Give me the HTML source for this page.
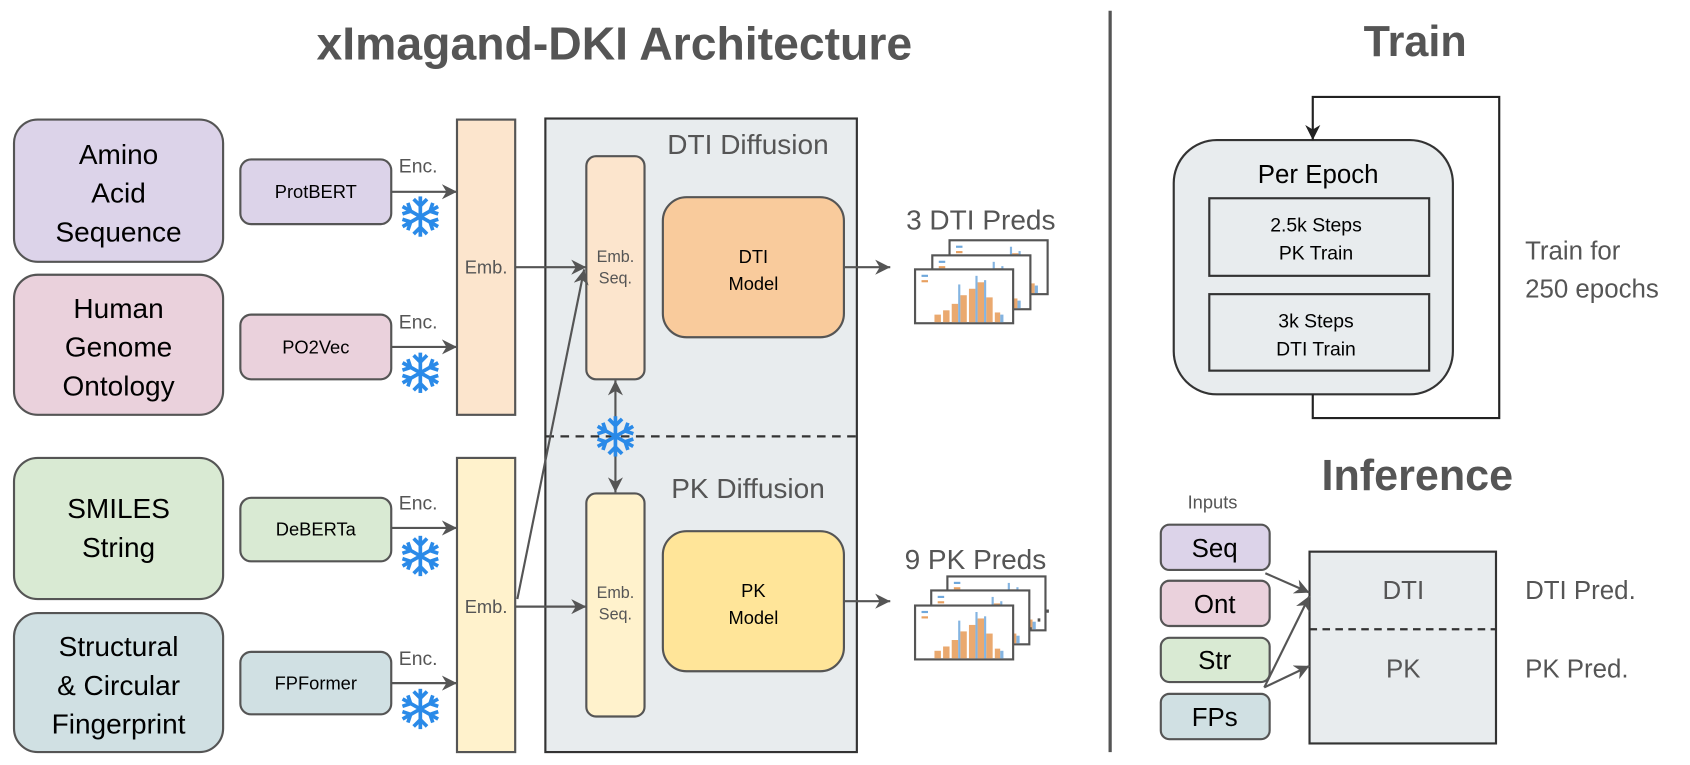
<!DOCTYPE html>
<html><head><meta charset="utf-8"><style>
html,body{margin:0;padding:0;background:#fff;}
svg{display:block;}
text{font-family:"Liberation Sans","DejaVu Sans",sans-serif;}
</style></head><body>
<svg width="1690" height="765" viewBox="0 0 1568 710" preserveAspectRatio="none" xmlns="http://www.w3.org/2000/svg">
<defs>
<marker id="ar" viewBox="0 0 10 10" refX="10" refY="5" markerWidth="14" markerHeight="14" orient="auto-start-reverse" markerUnits="userSpaceOnUse"><path d="M0,0 L10,5 L0,10 L3,5 Z" fill="#555"/></marker>
<marker id="arb" viewBox="0 0 10 10" refX="10" refY="5" markerWidth="14" markerHeight="14" orient="auto" markerUnits="userSpaceOnUse"><path d="M0,0 L10,5 L0,10 L3,5 Z" fill="#222"/></marker>
<g id="chart">
<rect x="0" y="0" width="91" height="50" fill="#fff" stroke="#555" stroke-width="2"/>
<g fill="#e8a060" opacity="0.9"><rect x="18" y="42" width="6" height="7"/><rect x="26" y="38" width="6" height="11"/><rect x="34" y="32" width="6" height="17"/><rect x="42" y="24" width="6" height="25"/><rect x="50" y="18" width="6" height="31"/><rect x="58" y="12" width="6" height="37"/><rect x="66" y="26" width="6" height="23"/><rect x="74" y="40" width="5" height="9"/></g>
<g fill="#6fa8dc" opacity="0.85"><rect x="40" y="14" width="2" height="35"/><rect x="56" y="6" width="2" height="43"/><rect x="64" y="10" width="2" height="39"/><rect x="79" y="42" width="3" height="7"/></g>
<rect x="6" y="5" width="6" height="2" fill="#6fa8dc"/><rect x="6" y="10" width="6" height="2" fill="#e8a060"/>
</g>
<g id="snow" stroke="#2a8ae8" stroke-width="3.4" fill="none" stroke-linecap="square">
<line x1="0" y1="-17" x2="0" y2="17"/><line x1="-15" y1="-8.5" x2="15" y2="8.5"/><line x1="-15" y1="8.5" x2="15" y2="-8.5"/>
<path d="M-5,-15 L0,-10 L5,-15 M-5,15 L0,10 L5,15 M-15,-3 L-9,-5 L-11,-11 M15,3 L9,5 L11,11 M-15,3 L-9,5 L-11,11 M15,-3 L9,-5 L11,-11"/>
</g>
</defs>

<text x="570" y="55" font-size="43" font-weight="bold" fill="#555" text-anchor="middle">xImagand-DKI Architecture</text>
<line x1="1030" y1="10" x2="1030" y2="698" stroke="#555" stroke-width="3"/>
<text x="1313" y="52" font-size="40" font-weight="bold" fill="#555" text-anchor="middle">Train</text>
<text x="1315" y="455" font-size="40" font-weight="bold" fill="#555" text-anchor="middle">Inference</text>

<g stroke="#555" stroke-width="2">
<rect x="13" y="111" width="194" height="132" rx="22" fill="#dcd3e9"/>
<rect x="13" y="255" width="194" height="130" rx="22" fill="#ead1dc"/>
<rect x="13" y="425" width="194" height="131" rx="22" fill="#d9ead3"/>
<rect x="13" y="569" width="194" height="129" rx="22" fill="#d0e0e3"/>
</g>
<g font-size="26" text-anchor="middle" fill="#000">
<text x="110" y="152">Amino</text><text x="110" y="188">Acid</text><text x="110" y="224">Sequence</text>
<text x="110" y="295">Human</text><text x="110" y="331">Genome</text><text x="110" y="367">Ontology</text>
<text x="110" y="481">SMILES</text><text x="110" y="517">String</text>
<text x="110" y="609">Structural</text><text x="110" y="645">&amp; Circular</text><text x="110" y="681">Fingerprint</text>
</g>

<g stroke="#555" stroke-width="2">
<rect x="223" y="148" width="140" height="60" rx="10" fill="#dcd3e9"/>
<rect x="223" y="292" width="140" height="60" rx="10" fill="#ead1dc"/>
<rect x="223" y="462" width="140" height="59" rx="10" fill="#d9ead3"/>
<rect x="223" y="605" width="140" height="58" rx="10" fill="#d0e0e3"/>
</g>
<g font-size="17" text-anchor="middle" fill="#000">
<text x="293" y="184">ProtBERT</text><text x="293" y="328">PO2Vec</text><text x="293" y="497">DeBERTa</text><text x="293" y="640">FPFormer</text>
</g>
<g stroke="#555" stroke-width="2" marker-end="url(#ar)">
<line x1="363" y1="178" x2="424" y2="178"/><line x1="363" y1="322" x2="424" y2="322"/>
<line x1="363" y1="490" x2="424" y2="490"/><line x1="363" y1="634" x2="424" y2="634"/>
</g>
<g font-size="18" fill="#555">
<text x="370" y="160">Enc.</text><text x="370" y="305">Enc.</text><text x="370" y="473">Enc.</text><text x="370" y="617">Enc.</text>
</g>
<use href="#snow" x="390" y="201"/><use href="#snow" x="390" y="346"/><use href="#snow" x="390" y="516"/><use href="#snow" x="390" y="658"/>

<rect x="424" y="111" width="54" height="274" fill="#fce5cd" stroke="#555" stroke-width="2"/>
<rect x="424" y="425" width="54" height="273" fill="#fff2cc" stroke="#555" stroke-width="2"/>
<g font-size="17" fill="#555" text-anchor="middle"><text x="451" y="254">Emb.</text><text x="451" y="569">Emb.</text></g>

<rect x="506" y="110" width="289" height="588" fill="#e8ecee" stroke="#333" stroke-width="2"/>
<line x1="506" y1="405" x2="795" y2="405" stroke="#333" stroke-width="2" stroke-dasharray="8,6"/>
<text x="694" y="143" font-size="26" fill="#555" text-anchor="middle">DTI Diffusion</text>
<text x="694" y="462" font-size="26" fill="#555" text-anchor="middle">PK Diffusion</text>
<rect x="544" y="145" width="54" height="207" rx="9" fill="#fce5cd" stroke="#555" stroke-width="2"/>
<rect x="544" y="458" width="54" height="207" rx="9" fill="#fff2cc" stroke="#555" stroke-width="2"/>
<g font-size="15" fill="#555" text-anchor="middle"><text x="571" y="243">Emb.</text><text x="571" y="263">Seq.</text><text x="571" y="555">Emb.</text><text x="571" y="575">Seq.</text></g>
<rect x="615" y="183" width="168" height="130" rx="22" fill="#f9cb9c" stroke="#555" stroke-width="2"/>
<rect x="615" y="493" width="168" height="130" rx="22" fill="#ffe599" stroke="#555" stroke-width="2"/>
<g font-size="17" fill="#000" text-anchor="middle"><text x="699" y="244">DTI</text><text x="699" y="269">Model</text><text x="699" y="554">PK</text><text x="699" y="579">Model</text></g>
<g stroke="#555" stroke-width="2" fill="none">
<line x1="478" y1="248" x2="544" y2="248" marker-end="url(#ar)"/>
<line x1="478" y1="563" x2="544" y2="563" marker-end="url(#ar)"/>
<line x1="480" y1="556" x2="542" y2="250" marker-end="url(#ar)"/>
<line x1="571" y1="353" x2="571" y2="457" marker-start="url(#ar)" marker-end="url(#ar)"/>
<line x1="783" y1="248" x2="826" y2="248" marker-end="url(#ar)"/>
<line x1="783" y1="558" x2="826" y2="558" marker-end="url(#ar)"/>
</g>
<use href="#snow" x="571" y="405"/>

<text x="910" y="213" font-size="26" fill="#555" text-anchor="middle">3 DTI Preds</text>
<use href="#chart" x="881" y="223"/><use href="#chart" x="865" y="237"/><use href="#chart" x="849" y="250"/>
<text x="905" y="528" font-size="26" fill="#555" text-anchor="middle">9 PK Preds</text>
<use href="#chart" x="879" y="535"/><use href="#chart" x="864" y="548"/><use href="#chart" x="849" y="562"/>
<text x="952" y="583" font-size="24" fill="#555">⋰</text>

<rect x="1089" y="130" width="259" height="236" rx="40" fill="#e8ecee" stroke="#333" stroke-width="2"/>
<polyline points="1218,366 1218,388 1391,388 1391,90 1218,90 1218,130" fill="none" stroke="#222" stroke-width="2" marker-end="url(#arb)"/>
<text x="1223" y="170" font-size="24" fill="#000" text-anchor="middle">Per Epoch</text>
<rect x="1122" y="184" width="204" height="72" fill="#e8ecee" stroke="#333" stroke-width="2"/>
<rect x="1122" y="273" width="204" height="71" fill="#e8ecee" stroke="#333" stroke-width="2"/>
<g font-size="18" fill="#000" text-anchor="middle">
<text x="1221" y="215">2.5k Steps</text><text x="1221" y="241">PK Train</text>
<text x="1221" y="304">3k Steps</text><text x="1221" y="330">DTI Train</text>
</g>
<text x="1415" y="241" font-size="24" fill="#555">Train for</text>
<text x="1415" y="276" font-size="24" fill="#555">250 epochs</text>

<text x="1125" y="472" font-size="17" fill="#555" text-anchor="middle">Inputs</text>
<g stroke="#555" stroke-width="2">
<rect x="1077" y="487" width="101" height="42" rx="8" fill="#dcd3e9"/>
<rect x="1077" y="539" width="101" height="42" rx="8" fill="#ead1dc"/>
<rect x="1077" y="592" width="101" height="41" rx="8" fill="#d9ead3"/>
<rect x="1077" y="644" width="101" height="42" rx="8" fill="#d0e0e3"/>
</g>
<g font-size="24" fill="#000" text-anchor="middle">
<text x="1127" y="517">Seq</text><text x="1127" y="569">Ont</text><text x="1127" y="621">Str</text><text x="1127" y="674">FPs</text>
</g>
<rect x="1215" y="512" width="173" height="178" fill="#e8ecee" stroke="#333" stroke-width="2"/>
<line x1="1215" y1="584" x2="1388" y2="584" stroke="#333" stroke-width="2" stroke-dasharray="7,5"/>
<g font-size="24" fill="#555" text-anchor="middle"><text x="1302" y="556">DTI</text><text x="1302" y="629">PK</text></g>
<g font-size="24" fill="#555"><text x="1415" y="556">DTI Pred.</text><text x="1415" y="629">PK Pred.</text></g>
<g stroke="#555" stroke-width="2" fill="none" marker-end="url(#ar)">
<line x1="1174" y1="532" x2="1215" y2="550"/>
<line x1="1173" y1="638" x2="1215" y2="553"/>
<line x1="1173" y1="638" x2="1215" y2="618"/>
</g>
</svg>
</body></html>
